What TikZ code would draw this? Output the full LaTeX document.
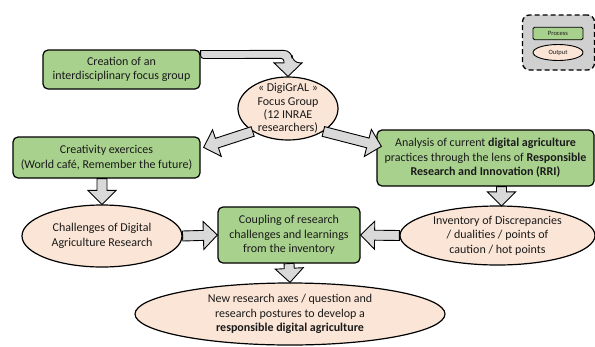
\documentclass[tikz,border=0pt]{standalone}
\usepackage{fontspec}
\setmainfont{Carlito}
\usetikzlibrary{calc,shapes.geometric}
\definecolor{procg}{HTML}{A9D18E}
\definecolor{outpc}{HTML}{FBE5D6}
\definecolor{arrg}{HTML}{D9D9D9}
\definecolor{legg}{HTML}{D0D0D0}
\definecolor{txtc}{HTML}{1A1A1A}
\newcommand{\fatarrow}[2]{%
  \path #1 coordinate (fS) #2 coordinate (fE);
  \path ($(fE)!14pt!(fS)$) coordinate (fH);
  \draw[fat] ($(fS)!5pt!90:(fE)$) -- ($(fH)!5pt!-90:(fS)$) -- ($(fH)!14pt!-90:(fS)$) -- (fE)
    -- ($(fH)!14pt!90:(fS)$) -- ($(fH)!5pt!90:(fS)$) -- ($(fS)!5pt!-90:(fE)$) -- cycle;
}
\tikzset{
  maintext/.style={font=\fontsize{12}{14.5}\selectfont, text=txtc, align=center},
  proc/.style={draw=black, line width=1.2pt, fill=procg, rounded corners=5pt, inner sep=0pt, maintext},
  outp/.style={draw=black, line width=1.2pt, fill=outpc, ellipse, inner sep=0pt},
  lbl/.style={maintext, inner sep=0pt},
  fat/.style={draw=black, line width=0.9pt, fill=arrg, line join=miter},
}
\begin{document}
\begin{tikzpicture}[x=1pt,y=-1pt]
\useasboundingbox (0,0) rectangle (595,346);

% legend
\node[draw=black, dash pattern=on 5pt off 3pt, line width=1.3pt, fill=legg, rounded corners=7pt,
      minimum width=72pt, minimum height=55pt, inner sep=0pt] (leg) at (558.5,42.5) {};
\node[draw=black, line width=0.9pt, fill=procg, rounded corners=1.5pt, minimum width=50pt, minimum height=12.5pt,
      inner sep=0pt, font=\fontsize{6.5}{7}\selectfont, text=txtc] (lp) at (558,33.5) {Process};
\node[draw=black, line width=0.9pt, fill=outpc, ellipse, minimum width=50pt, minimum height=16pt,
      inner sep=0pt, font=\fontsize{6.5}{7}\selectfont, text=txtc] (lo) at (558,52.5) {Output};

% nodes
\node[proc, minimum width=157pt, minimum height=39pt] (b1) at (121.5,69.5)
  {Creation of an\\interdisciplinary focus group};
\node[outp, minimum width=100pt, minimum height=63pt,
  label={[lbl, font=\fontsize{12}{13.3}\selectfont]center:{« DigiGrAL »\\Focus Group\\(12 INRAE\\researchers)}}] (dg) at (288,108.5) {};
\node[proc, minimum width=187pt, minimum height=41pt] (cre) at (106.5,157.5)
  {Creativity exercices\\(World café, Remember the future)};
\node[proc, minimum width=217pt, minimum height=56pt] (an) at (485.5,158)
  {Analysis of current \textbf{digital agriculture}\\practices through the lens of \textbf{Responsible}\\\textbf{Research and Innovation (RRI)}};
\node[outp, minimum width=160pt, minimum height=62pt,
  label={[lbl]center:{Challenges of Digital\\Agriculture Research}}] (chal) at (102,236) {};
\node[proc, minimum width=142pt, minimum height=56pt] (coup) at (289,235)
  {Coupling of research\\challenges and learnings\\from the inventory};
\node[outp, minimum width=195pt, minimum height=59pt,
  label={[lbl]center:{Inventory of Discrepancies\\/ dualities / points of\\caution / hot points}}] (inv) at (497.5,235.5) {};
\node[outp, minimum width=310pt, minimum height=62pt,
  label={[lbl]center:{New research axes / question and\\research postures to develop a\\\textbf{responsible digital agriculture}}}] (new) at (290,314) {};

% bent arrow
\draw[fat] ($(b1.east)+(0,-19)$) [rounded corners=8pt] -- ($(dg.north)+(4,-26)$) -- ($(dg.north)+(4,-13.5)$)
  [sharp corners] -- ($(dg.north)+(14,-13.5)$) -- (dg.north) -- ($(dg.north)+(-14,-13.5)$)
  -- ($(dg.north)+(-4,-13.5)$) [rounded corners=3pt] -- ($(dg.north)+(-4,-18)$) -- ($(b1.east)+(0,-11)$)
  [sharp corners] -- cycle;

% straight block arrows
\fatarrow{(dg.213)}{($(cre.north east)+(3,11)$)}
\fatarrow{(dg.-33)}{($(an.north west)+(5,17)$)}
\fatarrow{(chal.north |- cre.south)}{(chal.north)}
\fatarrow{(chal.east)}{(coup.west)}
\fatarrow{(inv.west)}{(coup.east)}
\fatarrow{($(inv.north |- an.south)+(4,0)$)}{($(inv.north)+(4,0.5)$)}
\fatarrow{(coup.south)}{(new.north)}
\end{tikzpicture}
\end{document}
